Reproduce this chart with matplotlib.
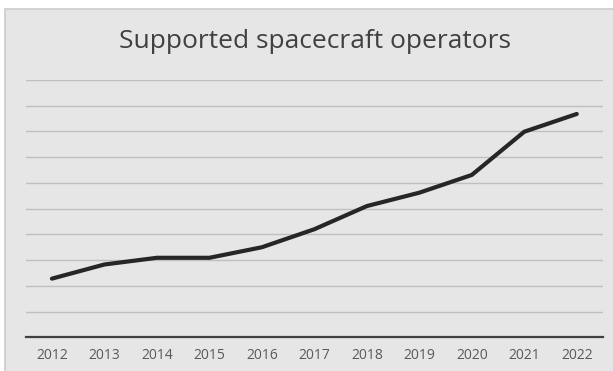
import matplotlib
matplotlib.use("Agg")
import matplotlib.pyplot as plt
from matplotlib.patches import Rectangle

years = ["2012", "2013", "2014", "2015", "2016", "2017", "2018", "2019", "2020", "2021", "2022"]
operators = [2.28, 2.83, 3.09, 3.09, 3.50, 4.20, 5.10, 5.62, 6.31, 7.99, 8.68]
title = "Supported spacecraft operators"

W, H = 613, 371
fig = plt.figure(figsize=(W / 100, H / 100), dpi=100)
fig.patch.set_facecolor("white")

# chart area background with light border
bg = Rectangle((5 / W, -0.05), 1.1, (H - 9) / H + 0.05,
               transform=fig.transFigure, facecolor="#e6e6e6",
               edgecolor="#cccccc", linewidth=1.2, zorder=-10)
fig.patches.append(bg)

left, right = 25.7 / W, 603 / W
bottom, top = (H - 337.3) / H, (H - 80) / H
ax = fig.add_axes([left, bottom, right - left, top - bottom])
ax.set_zorder(5)
ax.set_facecolor("none")

x = list(range(len(years)))
ax.plot(x, operators, color="#262626", linewidth=3.0, solid_capstyle="round",
        solid_joinstyle="round", zorder=3)

ax.set_xlim(-0.5, len(years) - 0.5)
ax.set_ylim(0, 10)
ax.set_yticks(range(0, 11))
ax.yaxis.grid(True, color="#bfbfbf", linewidth=1.0)
ax.set_axisbelow(True)
ax.tick_params(axis="y", left=False, labelleft=False)
ax.set_xticks(x)
ax.set_xticklabels(years, fontsize=10, color="#595959", family="Open Sans")
ax.tick_params(axis="x", length=0, pad=8)
for s in ["left", "right", "top"]:
    ax.spines[s].set_visible(False)
ax.spines["bottom"].set_color("#404040")
ax.spines["bottom"].set_linewidth(1.6)

fig.text(315 / W, (H - 42) / H, title, ha="center", va="center",
         fontsize=19, color="#404040", family="Open Sans", zorder=6)

fig.savefig("out.png", dpi=100, facecolor=fig.get_facecolor())
